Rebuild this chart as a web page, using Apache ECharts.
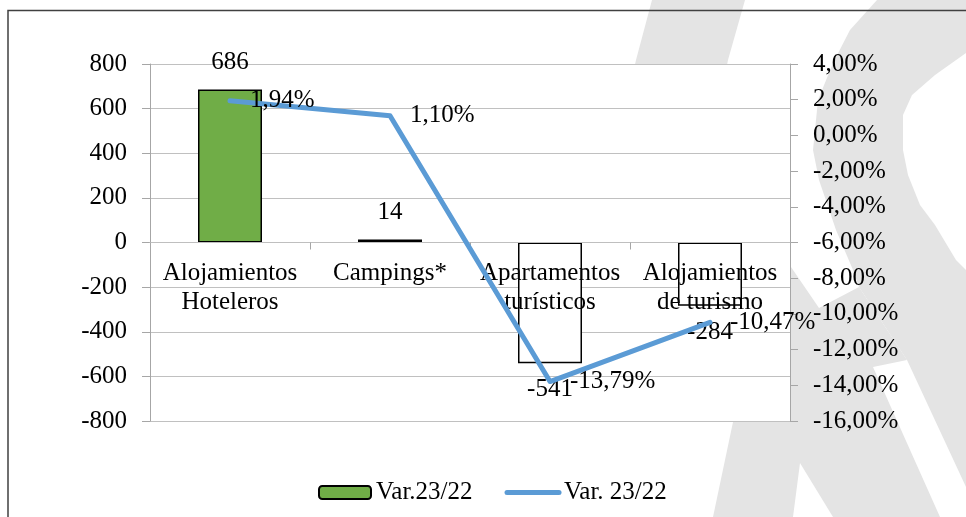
<!DOCTYPE html>
<html><head><meta charset="utf-8">
<script src="https://cdn.jsdelivr.net/npm/echarts@6/dist/echarts.min.js"></script>
<style>html,body{margin:0;padding:0;background:#fff;}#c{width:966px;height:517px;}</style>
</head><body><div id="c"></div>
<script>
// ---- data ----
const categories = ['Alojamientos\nHoteleros', 'Campings*', 'Apartamentos\nturísticos', 'Alojamientos\nde turismo'];
const barValues = [686, 14, -541, -284];
const lineValues = [1.94, 1.10, -13.79, -10.47];
const barName = 'Var.23/22';
const lineName = 'Var. 23/22';
const leftAxisRange = [-800, 800, 200];
const rightAxisRange = [-16, 4, 2];

// ---- style ----
const FONT = "'Liberation Serif', 'DejaVu Serif', serif";
const FS = 25;
const GREY_WM = '#e4e4e4';
const fmtPct = v => v.toFixed(2).replace('.', ',') + '%';
const GRID = {left: 150, right: 176, top: 64, bottom: 96};
const plotH = 517 - GRID.top - GRID.bottom;
// category axis sits on the value 0 of the left axis
const zeroOffset = -plotH * (0 - leftAxisRange[0]) / (leftAxisRange[1] - leftAxisRange[0]);

// decorative background watermark shapes
const wmShapes = [
  [[652,0],[745,0],[728,60],[712,140],[700,250],[610,250],[618,140],[636,60]],
  [[877,0],[966,0],[966,53],[935,75],[912,95],[903,115],[903,150],[908,175],[920,205],[935,225],[956,260],[966,270],[966,487],[907,360],[859,287],[853,270],[836,230],[819,180],[813,150],[818,100],[833,63],[850,30]],
  [[700,240],[791,267],[819,308],[859,287],[907,360],[873,367],[940,517],[833,517],[800,463],[793,517],[713,517],[733,422],[720,330]]
];

const chart = echarts.init(document.getElementById('c'), null, {renderer: 'canvas'});
chart.setOption({
  backgroundColor: '#fff',
  animation: false,
  textStyle: {fontFamily: FONT},
  graphic: {
    elements: wmShapes.map(p => ({type: 'polygon', shape: {points: p}, style: {fill: GREY_WM}, z: -10, silent: true}))
      .concat([{type: 'rect', shape: {x: 8, y: 10.5, width: 1000, height: 600}, style: {fill: 'none', stroke: '#404040', lineWidth: 1.5}, z: 100, silent: true}])
  },
  grid: Object.assign({show: true, backgroundColor: '#fff', borderWidth: 0}, GRID),
  legend: {
    left: 313, top: 475, padding: 5,
    itemWidth: 52, itemHeight: 13, itemGap: 32,
    textStyle: {fontFamily: FONT, fontSize: FS, color: '#000'},
    data: [{name: barName}, {name: lineName, itemStyle: {opacity: 0}, lineStyle: {width: 5, cap: 'round'}}]
  },
  xAxis: {
    type: 'category', data: categories, z: 3, offset: zeroOffset,
    axisLine: {show: true, onZero: false, lineStyle: {color: '#bfbfbf', width: 1}},
    axisTick: {show: true, length: 7, lineStyle: {color: '#a6a6a6'}},
    axisLabel: {interval: 0, margin: 16, fontFamily: FONT, fontSize: FS, color: '#000', lineHeight: 29}
  },
  yAxis: [
    {
      type: 'value', min: leftAxisRange[0], max: leftAxisRange[1], interval: leftAxisRange[2],
      axisLine: {show: true, lineStyle: {color: '#a6a6a6'}},
      axisTick: {show: true, length: 8, lineStyle: {color: '#a6a6a6'}},
      axisLabel: {margin: 23, fontFamily: FONT, fontSize: FS, color: '#000'},
      splitLine: {show: true, lineStyle: {color: '#c0c0c0', width: 1}}
    },
    {
      type: 'value', position: 'right', min: rightAxisRange[0], max: rightAxisRange[1], interval: rightAxisRange[2],
      axisLine: {show: true, lineStyle: {color: '#a6a6a6'}},
      axisTick: {show: true, length: 8, lineStyle: {color: '#a6a6a6'}},
      axisLabel: {margin: 23, fontFamily: FONT, fontSize: FS, color: '#000', formatter: fmtPct},
      splitLine: {show: false}
    }
  ],
  series: [
    {
      name: barName, type: 'bar', yAxisIndex: 0, barWidth: '40%', z: 2,
      itemStyle: {color: '#70ad47', borderColor: '#000', borderWidth: 1.5},
      label: {show: true, position: 'top', distance: 14, fontFamily: FONT, fontSize: FS, color: '#000'},
      data: barValues.map(v => v < 0
        ? {value: v, itemStyle: {color: '#fff'}, label: {position: 'bottom'}}
        : {value: v})
    },
    {
      name: lineName, type: 'line', yAxisIndex: 1, z: 4,
      symbol: 'circle', symbolSize: 0.01,
      itemStyle: {color: '#5b9bd5'},
      lineStyle: {color: '#5b9bd5', width: 5, cap: 'round', join: 'round'},
      label: {show: true, position: 'right', distance: 20, fontFamily: FONT, fontSize: FS, color: '#000',
        formatter: p => fmtPct(p.value)},
      data: lineValues
    }
  ]
});
</script>
</body></html>
